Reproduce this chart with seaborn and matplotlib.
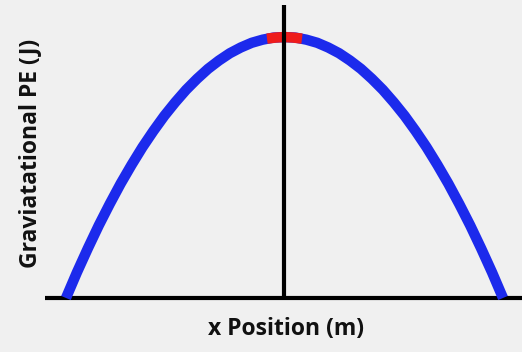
import numpy as np
import pandas as pd
import seaborn as sns
import matplotlib.pyplot as plt

# position (normalised) and gravitational PE
x_pos = [-1.0, -0.95, -0.9, -0.85, -0.8, -0.75, -0.7, -0.65, -0.6, -0.55, -0.5,
         -0.45, -0.4, -0.35, -0.3, -0.25, -0.2, -0.15, -0.1, -0.05, 0.0,
         0.05, 0.1, 0.15, 0.2, 0.25, 0.3, 0.35, 0.4, 0.45, 0.5,
         0.55, 0.6, 0.65, 0.7, 0.75, 0.8, 0.85, 0.9, 0.95, 1.0]
pe = [0.0, 0.098, 0.19, 0.278, 0.36, 0.438, 0.51, 0.578, 0.64, 0.698, 0.75,
      0.798, 0.84, 0.878, 0.91, 0.938, 0.96, 0.978, 0.99, 0.998, 1.0,
      0.998, 0.99, 0.978, 0.96, 0.938, 0.91, 0.878, 0.84, 0.798, 0.75,
      0.698, 0.64, 0.578, 0.51, 0.438, 0.36, 0.278, 0.19, 0.098, 0.0]
# highlighted top section
x_top = [-0.08, -0.04, 0.0, 0.04, 0.08]
pe_top = [0.994, 0.998, 1.0, 0.998, 0.994]

df = pd.DataFrame({"x": x_pos, "pe": pe})
df_top = pd.DataFrame({"x": x_top, "pe": pe_top})

sns.set_style("white")
plt.rcParams['font.family'] = ['Open Sans', 'DejaVu Sans']

fig = plt.figure(figsize=(5.22, 3.52), dpi=100)
fig.patch.set_facecolor('#f0f0f0')
ax = fig.add_axes([0, 0, 1, 1])
ax.set_facecolor('#f0f0f0')

# axes drawn as lines
ax.plot([-1.096, 1.09], [0, 0], color='black', lw=3, solid_capstyle='butt', zorder=1)
ax.plot([-0.002, -0.002], [0, 1.123], color='black', lw=3, solid_capstyle='butt', zorder=4)

sns.lineplot(data=df, x="x", y="pe", color='#1c2aec', lw=7.5, sort=False, ax=ax,
             zorder=2, solid_capstyle='butt', solid_joinstyle='round')
sns.lineplot(data=df_top, x="x", y="pe", color='#ee1c1c', lw=7.5, sort=False, ax=ax,
             zorder=3, solid_capstyle='butt', solid_joinstyle='round')

ax.set_xlim(-1.302, 1.087)
ax.set_ylim(-0.207, 1.142)
ax.set_axis_off()

fig.text(286 / 522, 1 - 329 / 352, "x Position (m)", ha='center', va='center',
         fontsize=16.5, fontweight='bold', color='#111111')
fig.text(30 / 522, 1 - 153 / 352, "Graviatational PE (J)", ha='center', va='center',
         rotation=90, fontsize=16.5, fontweight='bold', color='#111111')

fig.savefig("out.png", dpi=100, facecolor=fig.get_facecolor())
